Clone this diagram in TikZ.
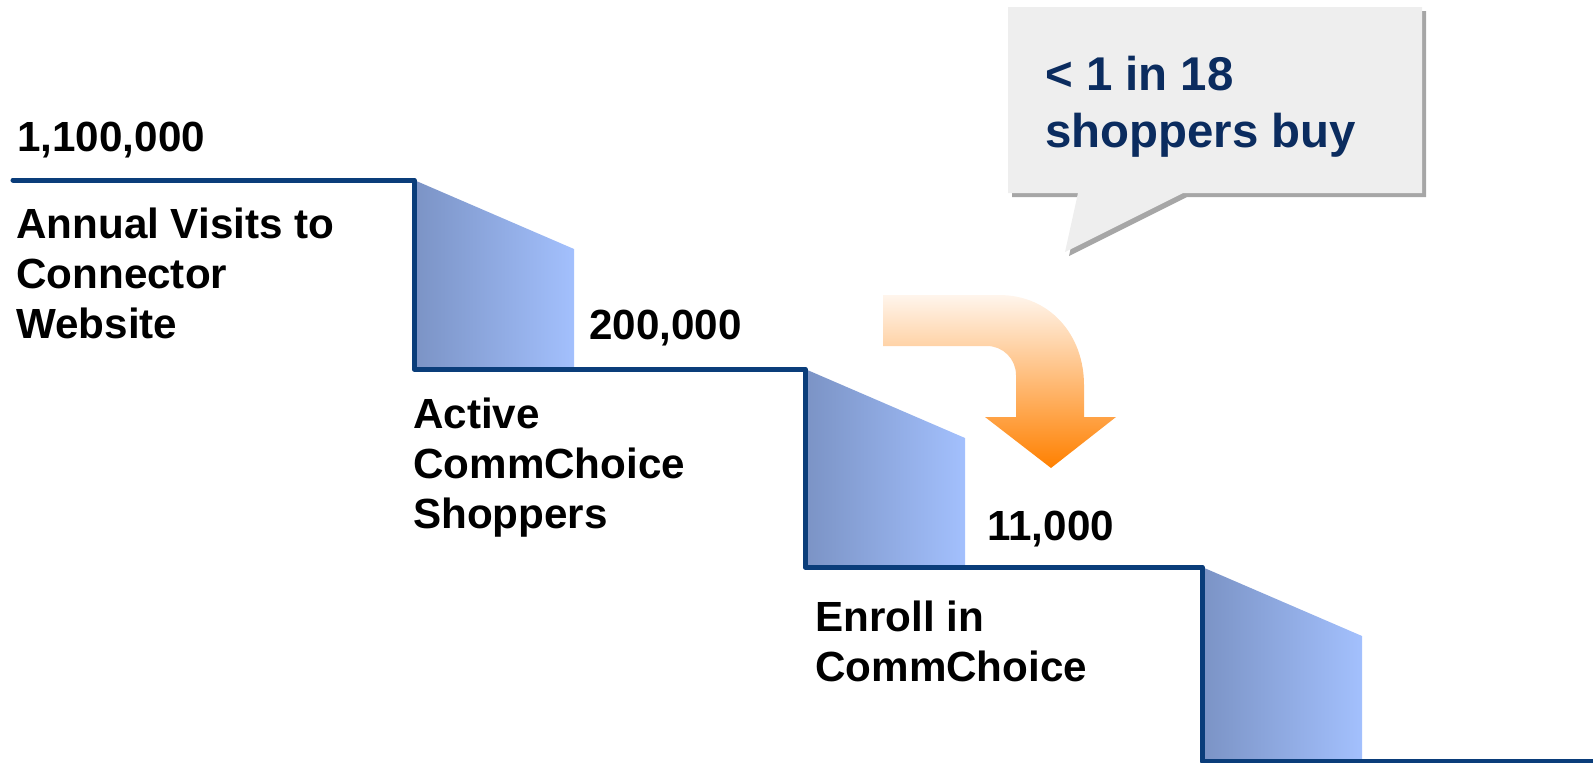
\documentclass[tikz,border=0pt]{standalone}
\usepackage{fontspec}
\setmainfont{Liberation Sans}
\usepackage{tikz}
\usetikzlibrary{positioning}
\definecolor{stairline}{HTML}{0A3D7A}
\definecolor{stepdark}{HTML}{7B93C5}
\definecolor{steplight}{HTML}{A3C0FD}
\definecolor{calloutfill}{HTML}{EEEEEE}
\definecolor{calloutshadow}{HTML}{A6A6A6}
\definecolor{callouttext}{HTML}{0B2C5F}
\definecolor{arrowtop}{HTML}{FFF5EC}
\definecolor{arrowmid}{HTML}{FFC793}
\definecolor{arrowbot}{HTML}{FF8000}

\begin{document}
\begin{tikzpicture}[x=0.025cm,y=-0.025cm,
  count/.style={anchor=base west,inner sep=0pt,font=\fontsize{30}{35.4}\selectfont\bfseries},
  stage/.style={count,align=left}]
  \useasboundingbox (0,0) rectangle (1593,763);
  % shaded risers under each step
  \foreach \x/\y/\yb in {414/180/369,805/369/567,1202/567/761}
    \shade[left color=stepdark,right color=steplight] (\x,\y) -- ++(160,69) -- (\x+160,\yb) -- (\x,\yb) -- cycle;
  % the staircase itself
  \draw[stairline,line width=0.125cm,line cap=round,line join=round]
    (13,180) -- (414,180) -- (414,369) -- (805,369) -- (805,567) -- (1202,567) -- (1202,761) -- (1600,761);
  % figures and stage names (multi-line nodes sit on their last line)
  \node[count] (visits) at (17,151) {1,100,000};
  \node[stage] (visitsname) at (16,338) {Annual Visits to\\Connector\\Website};
  \node[count] (shoppers) at (589,339) {200,000};
  \node[stage] (shoppersname) at (413,528) {Active\\CommChoice\\Shoppers};
  \node[count] (enrolls) at (987,540) {11,000};
  \node[stage] (enrollsname) at (815,681) {Enroll in\\CommChoice};
  % bent arrow down to the last step
  \shade[top color=arrowtop,middle color=arrowmid,bottom color=arrowbot]
    (883,295) -- (999,295) .. controls (1050,295) and (1084,335) .. (1084,385)
    -- (1084,417) -- (1116,417) -- (1051,468) -- (985,417) -- (1016,417) -- (1016,375)
    .. controls (1016,359) and (1003,346) .. (987,346) -- (883,346) -- cycle;
  % speech bubble
  \fill[calloutshadow] (1012,11) -- (1426,11) -- (1426,197) -- (1187,197) -- (1069,256) -- (1082,197) -- (1012,197) -- cycle;
  \fill[calloutfill] (1008,7) -- (1422,7) -- (1422,193) -- (1183,193) -- (1065,252) -- (1078,193) -- (1008,193) -- cycle;
  \node[anchor=base west,inner sep=0pt,align=left,text=callouttext,font=\fontsize{33.7}{40.4}\selectfont\bfseries]
    (ratio) at (1045,147) {< 1 in 18\\shoppers buy};
\end{tikzpicture}
\end{document}
